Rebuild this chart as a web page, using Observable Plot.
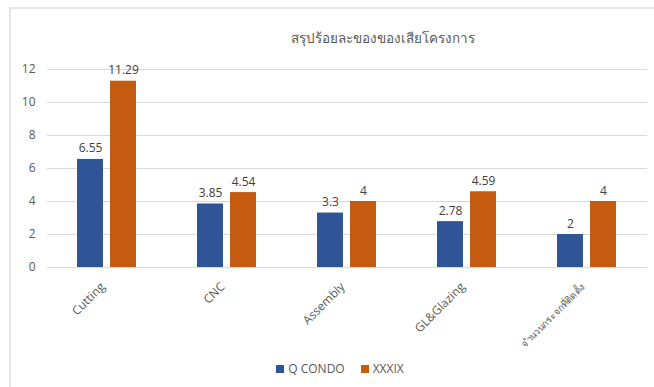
<!DOCTYPE html>
<html>
<head>
<meta charset="utf-8">
<script src="https://cdn.jsdelivr.net/npm/d3@7"></script>
<script src="https://cdn.jsdelivr.net/npm/@observablehq/plot@0.6"></script>
<style>
  body { margin: 0; background: #fff; font-family: "Open Sans", "Noto Sans", Lato, sans-serif; }
  #wrap { position: relative; width: 654px; height: 387px; overflow: hidden; }
  #frame { position: absolute; left: 9px; top: 7px; width: 700px; height: 400px; border-left: 2px solid #e4e4e4; border-top: 2px solid #e4e4e4; }
  #title { position: absolute; top: 27px; left: 260px; width: 246px; text-align: center; font-size: 13.5px; color: #595959; }
  #chart { position: absolute; left: 0; top: 0; }
  #legend { position: absolute; top: 360px; left: 26px; width: 628px; text-align: center; font-size: 12px; color: #595959; }
  .sw { display: inline-block; width: 8px; height: 8px; margin-right: 4px; vertical-align: 0px; }
  .item { display: inline-block; margin: 0 8px; }
</style>
</head>
<body>
<div id="wrap">
  <div id="frame"></div>
  <div id="chart"></div>
  <div id="title">สรุปร้อยละของของเสียโครงการ</div>
  <div id="legend"></div>
</div>
<script>
const categories = ["Cutting", "CNC", "Assembly", "GL&Glazing", "จำนวนกระจกที่ติดตั้ง"];
const seriesNames = ["Q CONDO", "XXXIX"];
const qCondo = [6.55, 3.85, 3.3, 2.78, 2];
const xxxix = [11.29, 4.54, 4, 4.59, 4];
const colors = ["#2f5597", "#c55a11"];
const yTicks = [0, 2, 4, 6, 8, 10, 12];

const data = [];
categories.forEach((c, i) => {
  data.push({cat: c, series: seriesNames[0], value: qCondo[i]});
  data.push({cat: c, series: seriesNames[1], value: xxxix[i]});
});

const plot = Plot.plot({
  width: 654,
  height: 355,
  marginTop: 69,
  marginBottom: 88,
  marginLeft: 47,
  marginRight: 7,
  style: {fontFamily: "'Open Sans', 'Noto Sans', sans-serif", fontSize: "12px", color: "#595959", background: "transparent", overflow: "visible"},
  fx: {domain: categories, padding: 0, axis: null},
  x: {domain: seriesNames, padding: 0, paddingInner: 0.206, paddingOuter: 0.868, axis: null},
  y: {domain: [0, 12], ticks: yTicks, tickSize: 0, tickPadding: 12, label: null, grid: false},
  color: {domain: seriesNames, range: colors},
  marks: [
    Plot.ruleY(yTicks, {y: d => d, stroke: "#d9d9d9", strokeWidth: 1, facet: "exclude"}),
    Plot.barY(data, {fx: "cat", x: "series", y: "value", fill: "series"}),
    Plot.text(data, {fx: "cat", x: "series", y: "value", text: d => String(d.value), lineAnchor: "bottom", dy: -7, fill: "#404040", fontSize: 12}),
    Plot.text(categories, {fx: d => d, text: d => d, frameAnchor: "bottom", rotate: -45, textAnchor: "end",
      dy: 20, dx: -2, fill: "#595959",
      fontSize: d => d === categories[4] ? 9.5 : 12})
  ]
});
document.getElementById("chart").appendChild(plot);

const legend = document.getElementById("legend");
seriesNames.forEach((s, i) => {
  const span = document.createElement("span");
  span.className = "item";
  span.innerHTML = `<span class="sw" style="background:${colors[i]}"></span>${s}`;
  legend.appendChild(span);
});
</script>
</body>
</html>
